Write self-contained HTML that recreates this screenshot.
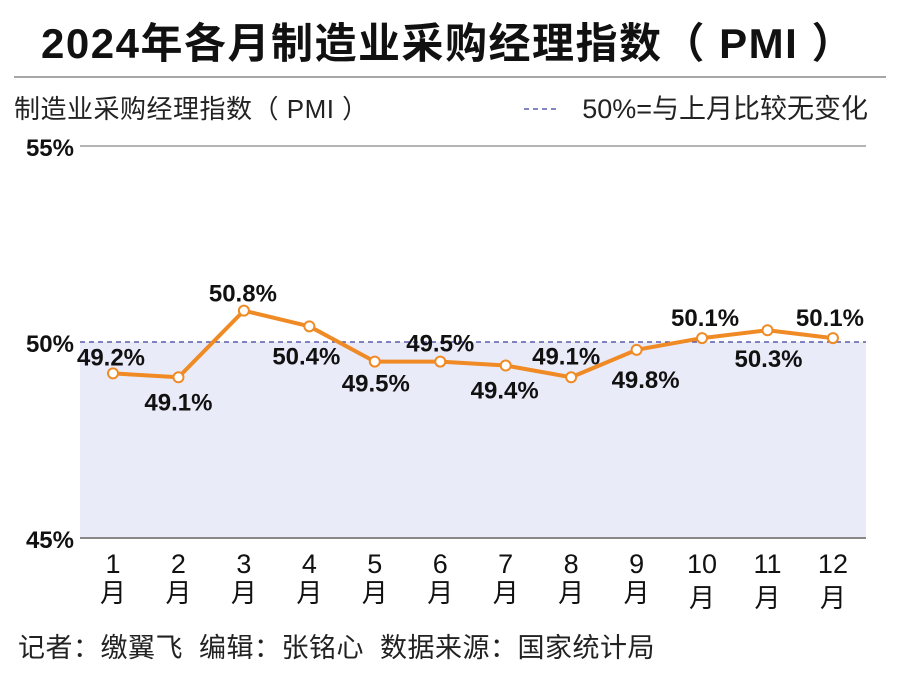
<!DOCTYPE html>
<html><head><meta charset="utf-8">
<style>
body{margin:0;background:#fff;width:900px;height:671px;overflow:hidden;font-family:"Liberation Sans","Noto Sans CJK SC",sans-serif;}
svg text{font-family:"Liberation Sans","Noto Sans CJK SC",sans-serif;}
.num{font-family:"Liberation Sans Narrow","Liberation Sans",sans-serif;font-weight:bold;}
</style></head><body>
<svg width="900" height="671">
<text x="448" y="58" text-anchor="middle" font-size="42" font-weight="bold" letter-spacing="1.5" fill="#111">2024年各月制造业采购经理指数（ PMI ）</text>
<line x1="14" y1="77" x2="886" y2="77" stroke="#888" stroke-width="1.5"/>
<text x="14" y="118" font-size="26" letter-spacing="0.5" fill="#222">制造业采购经理指数（ PMI ）</text>
<line x1="524" y1="109" x2="556" y2="109" stroke="#3a3f9a" stroke-width="1.3" stroke-dasharray="5,4"/>
<text x="868" y="118" text-anchor="end" font-size="27" fill="#222">50%=与上月比较无变化</text>
<g id="plot"></g>
<text x="18" y="657" font-size="27" letter-spacing="0.5" fill="#222" xml:space="preserve" style="white-space:pre">记者：缴翼飞  编辑：张铭心  数据来源：国家统计局</text>
</svg>
<script>
const months=["1","2","3","4","5","6","7","8","9","10","11","12"];
const values=[49.2,49.1,50.8,50.4,49.5,49.5,49.4,49.1,49.8,50.1,50.3,50.1];
const yTicks=[45,50,55];
const labelDy=[-8,33,-9,38,30,-10,33,-13,38,-12,37,-12];
const labelDx=[-2,0,-1,-3,1,0,-1,-5,9,3,1,-3];
const NS="http://www.w3.org/2000/svg";
const g=document.getElementById('plot');
const X0=80,X1=866;
function x(i){return 113+i*65.45;}
function y(v){return 342-(v-50)*39.2;}
function mk(t,a){const e=document.createElementNS(NS,t);for(const k in a)e.setAttribute(k,a[k]);g.appendChild(e);return e;}
let r=mk('rect',{x:X0,y:y(50),width:X1-X0,height:y(45)-y(50),fill:'#eaebf8'});


let gl=mk('line',{x1:X0,y1:y(55),x2:X1,y2:y(55),stroke:'#888','stroke-width':1.2});


let ax=mk('line',{x1:X0,y1:y(45),x2:X1,y2:y(45),stroke:'#888','stroke-width':2});


let rl=mk('line',{x1:X0,y1:y(50),x2:X1,y2:y(50),stroke:'#3a3f9a','stroke-width':1.2,'stroke-dasharray':'5,4'});


yTicks.forEach(t=>{
 const e=mk('text',{x:74,y:y(t)+10,'text-anchor':'end','font-size':24,fill:'#111',class:'num'});
 e.textContent=t+'%';
 
 
});
months.forEach((m,i)=>{
 const e=mk('text',{x:x(i),y:573,'text-anchor':'middle','font-size':27,fill:'#111'});
 e.textContent=m;
 
 
 const e2=mk('text',{x:x(i),y:i>=9?607:602,'text-anchor':'middle','font-size':26,fill:'#111'});
 e2.textContent='月';
 
 
});
const pl=mk('polyline',{points:values.map((v,i)=>x(i)+','+y(v)).join(' '),fill:'none',stroke:'#f08a24','stroke-width':4,'stroke-linejoin':'round'});


values.forEach((v,i)=>{
 const c=mk('circle',{cx:x(i),cy:y(v),r:5,fill:'#fff',stroke:'#f08a24','stroke-width':2});
 
 
 const t=mk('text',{x:x(i)+labelDx[i],y:y(v)+labelDy[i],'text-anchor':'middle','font-size':24,fill:'#111',class:'num'});
 t.textContent=v.toFixed(1)+'%';
 
 
});
</script>
</body></html>
